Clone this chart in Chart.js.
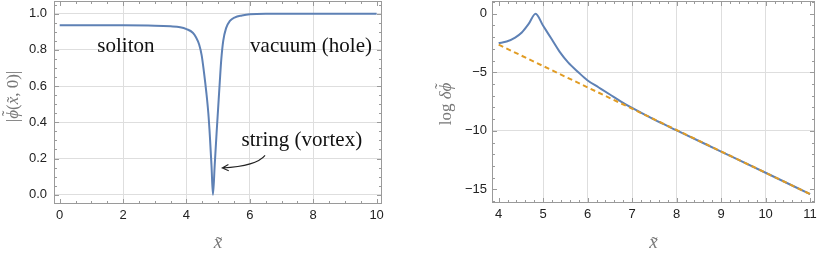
<!DOCTYPE html>
<html>
<head>
<meta charset="utf-8">
<script src="https://cdn.jsdelivr.net/npm/chart.js@4.4.1/dist/chart.umd.min.js"></script>
<style>
  body { margin: 0; background: #fff; }
  canvas { position: absolute; top: 0; }
  #left { left: 0; }
  #right { left: 400px; }
</style>
</head>
<body>
<canvas id="left" width="400" height="256"></canvas>
<canvas id="right" width="417" height="256"></canvas>
<script>
// left panel: |phi(x,0)| profile
const leftX = [0, 1, 2, 3, 3.5, 3.8, 4.0, 4.2, 4.3, 4.4, 4.48, 4.55, 4.63, 4.69, 4.74, 4.79, 4.836,
  4.89, 4.95, 5.0, 5.05, 5.1, 5.16, 5.25, 5.37, 5.53, 5.75, 6.0, 6.5, 7, 8, 9, 10];
const leftY = [0.936, 0.936, 0.936, 0.934, 0.93, 0.925, 0.915, 0.895, 0.87, 0.83, 0.77, 0.68, 0.56, 0.45, 0.32, 0.16, 0.0,
  0.16, 0.34, 0.48, 0.62, 0.75, 0.85, 0.92, 0.96, 0.98, 0.99, 0.997, 1.0, 1.0, 1.0, 1.0, 1.0];

// right panel: log delta phi and asymptotic fit
const rightX = [4.0, 4.18, 4.37, 4.52, 4.67, 4.83, 5.0, 5.19, 5.38, 5.56, 5.79, 6.0, 6.25, 6.5, 6.75, 7.0, 7.5, 8, 9, 10, 11];
const rightY = [-2.51, -2.38, -2.04, -1.61, -0.9, 0, -1.04, -2.17, -3.31, -4.16, -5.0, -5.7, -6.3, -6.9, -7.5, -8.05, -9.05, -9.96, -11.77, -13.58, -15.4];
const fitX = [4, 11];
const fitY = [-2.65, -15.4];

const leftXTicks = [0, 2, 4, 6, 8, 10];
const leftYTicks = [0, 0.2, 0.4, 0.6, 0.8, 1.0];
const rightXTicks = [4, 5, 6, 7, 8, 9, 10, 11];
const rightYTicks = [0, -5, -10, -15];

const leftGridX = [2, 4, 6, 8];
const leftGridY = [0, 0.2, 0.4, 0.6, 0.8, 1.0];
const rightGridX = [5, 6, 7, 8, 9, 10];
const rightGridY = [-5, -10];

const leftNotes = [
  { text: 'soliton', x: 2.09, y: 0.82 },
  { text: 'vacuum (hole)', x: 7.93, y: 0.82 },
  { text: 'string (vortex)', x: 7.64, y: 0.30 },
];

const BLUE = '#5e81b5';
const ORANGE = '#e19c24';
const GRID = '#dedede';
const FRAME = '#9a9a9a';
const TICKFONT = { family: '"Liberation Sans", Arial, sans-serif', size: 13 };
const SERIF = '"Liberation Serif", "DejaVu Serif", serif';

const pts = (xs, ys) => xs.map((x, i) => ({ x, y: ys[i] }));

function axis(min, max, ticks, grid, fmt, fit, pad) {
  return {
    type: 'linear', min, max,
    afterBuildTicks: s => { s.ticks = ticks.map(v => ({ value: v })); },
    afterFit: s => {
      fit(s);
      s.paddingTop = 0; s.paddingBottom = 0; s.paddingLeft = 0; s.paddingRight = 0;
    },
    ticks: { font: TICKFONT, color: '#222', padding: pad, callback: fmt, maxRotation: 0, autoSkip: false },
    grid: {
      drawTicks: false,
      color: c => (c.tick && grid.includes(c.tick.value)) ? GRID : 'rgba(0,0,0,0)',
    },
    border: { display: false },
  };
}

// draws a run of text pieces; a piece can carry a tilde accent
function drawPieces(ctx, pieces, size) {
  const fontOf = p => (p.italic ? 'italic ' : '') + size + 'px ' + SERIF;
  let total = 0;
  pieces.forEach(p => { ctx.font = fontOf(p); p.w = ctx.measureText(p.t).width; total += p.w; });
  let x0 = -total / 2;
  ctx.textAlign = 'left';
  ctx.textBaseline = 'middle';
  pieces.forEach(p => {
    ctx.font = fontOf(p);
    ctx.fillText(p.t, x0, 0);
    if (p.tilde !== undefined) {
      ctx.font = size + 'px ' + SERIF;
      ctx.textAlign = 'center';
      ctx.fillText('\u02dc', x0 + p.w / 2 + 1, p.tilde * size);
      ctx.textAlign = 'left';
    }
    x0 += p.w;
  });
}

// frame, inward ticks on all four sides, axis titles
function framePlugin(o) {
  return {
    id: 'frame',
    afterDraw(chart) {
      const { ctx, chartArea: a, scales: { x, y } } = chart;
      ctx.save();
      ctx.strokeStyle = FRAME;
      ctx.lineWidth = 1;
      ctx.strokeRect(Math.round(a.left) + 0.5, Math.round(a.top) + 0.5,
        Math.round(a.width) - 1, Math.round(a.height) - 1);

      const marks = (scale, step) => {
        const out = [];
        for (let i = Math.ceil(scale.min / step); i * step <= scale.max; i++) out.push(+(i * step).toFixed(6));
        return out;
      };
      ctx.beginPath();
      const xs = [...o.xTicks.map(v => [v, 5]), ...marks(x, o.xMinor).filter(v => !o.xTicks.includes(v)).map(v => [v, 3])];
      xs.forEach(([v, len]) => {
        const px = Math.round(x.getPixelForValue(v)) + 0.5;
        if (px < a.left + 1 || px > a.right - 1) return;
        ctx.moveTo(px, a.bottom); ctx.lineTo(px, a.bottom - len);
        ctx.moveTo(px, a.top); ctx.lineTo(px, a.top + len);
      });
      const ys = [...o.yTicks.map(v => [v, 5]), ...marks(y, o.yMinor).filter(v => !o.yTicks.includes(v)).map(v => [v, 3])];
      ys.forEach(([v, len]) => {
        const py = Math.round(y.getPixelForValue(v)) + 0.5;
        if (py < a.top + 1 || py > a.bottom - 1) return;
        ctx.moveTo(a.left, py); ctx.lineTo(a.left + len, py);
        ctx.moveTo(a.right, py); ctx.lineTo(a.right - len, py);
      });
      ctx.stroke();

      // x title
      ctx.fillStyle = '#777';
      ctx.save();
      ctx.translate((a.left + a.right) / 2, 243);
      drawPieces(ctx, [{ t: 'x', italic: true, tilde: 0.08 }], 19);
      ctx.restore();

      // y title
      ctx.translate(o.yTitleX, (a.top + a.bottom) / 2 + o.yTitleDy);
      ctx.rotate(-Math.PI / 2);
      drawPieces(ctx, o.yTitle, 17);
      ctx.restore();

      if (o.notes) o.notes(chart);
    },
  };
}

function drawNotes(chart) {
  const { ctx, scales: { x, y } } = chart;
  ctx.save();
  ctx.fillStyle = '#111';
  ctx.font = '21px ' + SERIF;
  ctx.textAlign = 'center';
  ctx.textBaseline = 'middle';
  leftNotes.forEach(n => ctx.fillText(n.text, x.getPixelForValue(n.x), y.getPixelForValue(n.y)));

  // curved arrow pointing at the vortex core
  const sx = x.getPixelForValue(6.48), sy = y.getPixelForValue(0.218);
  const cx = x.getPixelForValue(6.21), cy = y.getPixelForValue(0.159);
  const ex = x.getPixelForValue(5.13), ey = y.getPixelForValue(0.148);
  ctx.strokeStyle = '#222';
  ctx.lineWidth = 1.1;
  ctx.beginPath();
  ctx.moveTo(sx, sy);
  ctx.quadraticCurveTo(cx, cy, ex, ey);
  const ang = Math.atan2(ey - cy, ex - cx);
  const L = 7;
  ctx.moveTo(ex - L * Math.cos(ang - 0.45), ey - L * Math.sin(ang - 0.45));
  ctx.lineTo(ex, ey);
  ctx.lineTo(ex - L * Math.cos(ang + 0.45), ey - L * Math.sin(ang + 0.45));
  ctx.stroke();
  ctx.restore();
}

Chart.defaults.animation = false;

new Chart(document.getElementById('left'), {
  type: 'line',
  data: {
    datasets: [{
      data: pts(leftX, leftY),
      borderColor: BLUE, borderWidth: 2, pointRadius: 0, tension: 0.3, cubicInterpolationMode: 'monotone',
    }],
  },
  options: {
    responsive: false,
    devicePixelRatio: 1,
    layout: { padding: { top: 1, right: 18, left: 0, bottom: 0 } },
    plugins: { legend: { display: false }, tooltip: { enabled: false } },
    scales: {
      x: axis(-0.18, 10.17, leftXTicks, leftGridX, v => String(v), s => { s.height = 52; }, 4),
      y: axis(-0.051, 1.07, leftYTicks, leftGridY, v => v.toFixed(1), s => { s.width = 54; }, 7),
    },
  },
  plugins: [framePlugin({
    xTicks: leftXTicks, yTicks: leftYTicks, xMinor: 0.5, yMinor: 0.05,
    yTitleX: 14, yTitleDy: -6,
    yTitle: [
      { t: '|' },
      { t: '\u03d5', italic: true, tilde: -0.3 },
      { t: '(' },
      { t: 'x', italic: true, tilde: 0.0 },
      { t: ', 0)|' },
    ],
    notes: drawNotes,
  })],
});

new Chart(document.getElementById('right'), {
  type: 'line',
  data: {
    datasets: [
      {
        data: pts(fitX, fitY),
        borderColor: ORANGE, borderWidth: 2, borderDash: [5, 3.5], pointRadius: 0, tension: 0,
      },
      {
        data: pts(rightX, rightY),
        borderColor: BLUE, borderWidth: 2, pointRadius: 0, tension: 0.2, cubicInterpolationMode: 'monotone',
      },
    ],
  },
  options: {
    responsive: false,
    devicePixelRatio: 1,
    layout: { padding: { top: 1, right: 2, left: 0, bottom: 0 } },
    plugins: { legend: { display: false }, tooltip: { enabled: false } },
    scales: {
      x: axis(3.85, 11.11, rightXTicks, rightGridX, v => String(v), s => { s.height = 53; }, 4),
      y: axis(-16.16, 1.08, rightYTicks, rightGridY, v => (v < 0 ? '\u2212' + Math.abs(v) : String(v)), s => { s.width = 92; }, 5),
    },
  },
  plugins: [framePlugin({
    xTicks: rightXTicks, yTicks: rightYTicks, xMinor: 0.2, yMinor: 1,
    yTitleX: 47, yTitleDy: 2,
    yTitle: [
      { t: 'log ' },
      { t: '\u03b4', italic: true },
      { t: '\u03d5', italic: true, tilde: -0.3 },
    ],
  })],
});
</script>
</body>
</html>
